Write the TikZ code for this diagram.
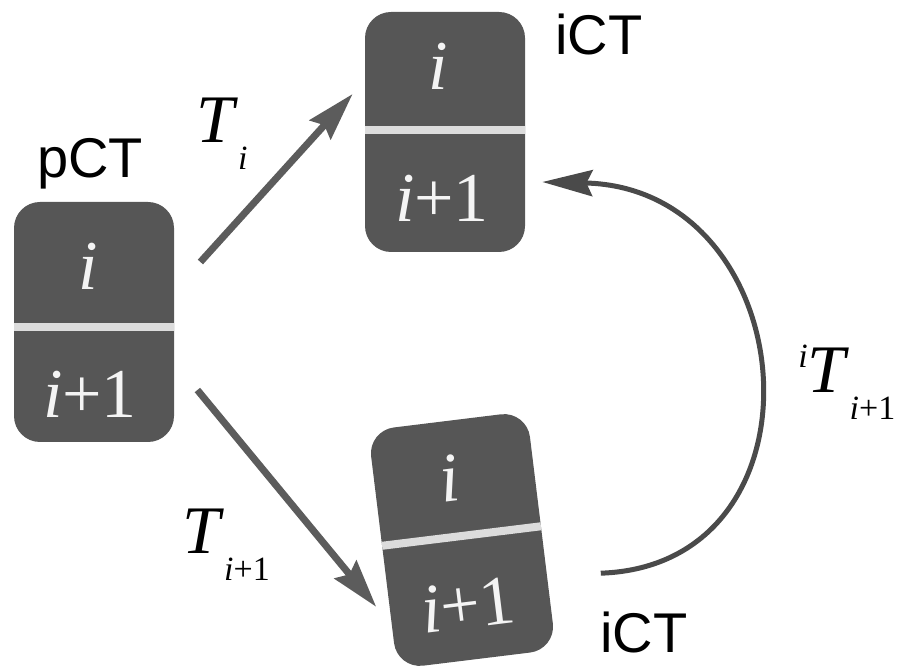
\documentclass[tikz,border=0pt]{standalone}
\usepackage{fontspec}
\setmainfont{Liberation Serif}
\newfontfamily\labelsans{Liberation Sans}
\usetikzlibrary{arrows.meta,calc}

\definecolor{blockgray}{HTML}{565656}
\definecolor{bargray}{HTML}{DCDCDC}
\definecolor{arrowgray}{HTML}{5C5C5C}
\definecolor{loopgray}{HTML}{4A4A4A}
\definecolor{digitwhite}{HTML}{F4F4F4}

% lowered subscript and raised superscript for the transform labels
\newcommand\lowsub[1]{\raisebox{-13.5pt}{\fontsize{17}{17}\selectfont #1}}
\newcommand\highsup[1]{\raisebox{12.5pt}{\fontsize{17}{17}\selectfont #1}}

\begin{document}
\begin{tikzpicture}[x=0.5pt,y=-0.5pt,
  blk/.style={fill=blockgray, rounded corners=13pt, minimum width=80pt,
    minimum height=120pt, inner sep=0pt, draw=none},
  bar/.style={draw=bargray, line width=4pt},
  num/.style={text=digitwhite, font=\fontsize{35}{35}\selectfont,
    inner sep=0pt, anchor=base},
  scan/.style={font=\labelsans\fontsize{28}{28}\selectfont, inner sep=0pt,
    anchor=base},
  tlabel/.style={font=\fontsize{34}{34}\selectfont, inner sep=0pt,
    anchor=base west},
  move/.style={draw=arrowgray, line width=3.5pt,
    -{Stealth[length=24pt,width=14pt,inset=3pt]}},
  loop/.style={draw=loopgray, line width=2.5pt,
    -{Stealth[length=25pt,width=13pt,inset=3pt]}},
]
\useasboundingbox (0,0) rectangle (906,668);

% planning CT: slices i and i+1
\node[blk] (pct) at (94,322) {};
\draw[bar] ($(pct.west)+(0,5)$) -- ($(pct.east)+(0,5)$);
\node[num] (pct-a) at (88,290) {\textit{i}};
\node[num] (pct-b) at (90,418) {\textit{i}+1};
\node[scan] (pct-lbl) at (90,178) {pCT};

% interventional CT aligned to slice i
\node[blk] (ict1) at (445,132) {};
\draw[bar] ($(ict1.west)+(0,-2)$) -- ($(ict1.east)+(0,-2)$);
\node[num] (ict1-a) at (438,90) {\textit{i}};
\node[num] (ict1-b) at (442,222) {\textit{i}+1};
\node[scan] (ict1-lbl) at (599,55) {iCT};

% interventional CT aligned to slice i+1 (tilted)
\begin{scope}[shift={(462,540)}, rotate=7, transform shape]
  \node[blk] (ict2) at (0,0) {};
  \draw[bar] (-80,-4) -- (80,-4);
  \node[num] (ict2-a) at (-5,-40) {\textit{i}};
  \node[num] (ict2-b) at (-2,88) {\textit{i}+1};
\end{scope}
\node[scan] (ict2-lbl) at (644,652) {iCT};

% transforms
\draw[move] ($(pct.east)+(26,-60)$) -- ($(ict1.west)+(-12,-38)$);
\draw[move] ($(pct.east)+(23,68)$) -- ($(ict2.west)+(-6,57)$);
\draw[loop] ($(ict2.east)+(59,43)$)
  .. controls ($(ict2.east)+(293,35)$) and ($(ict1.east)+(280,56)$)
  .. ($(ict1.east)+(17,50)$);

\node[tlabel] (t-i) at (196,143) {\textit{T}\lowsub{\textit{i}}};
\node[tlabel] (t-ip) at (182,553) {\textit{T}\lowsub{\textit{i}+1}};
\node[tlabel] (t-rel) at (798,393) {\highsup{\textit{i}}\textit{T}\lowsub{\textit{i}+1}};
\end{tikzpicture}
\end{document}
